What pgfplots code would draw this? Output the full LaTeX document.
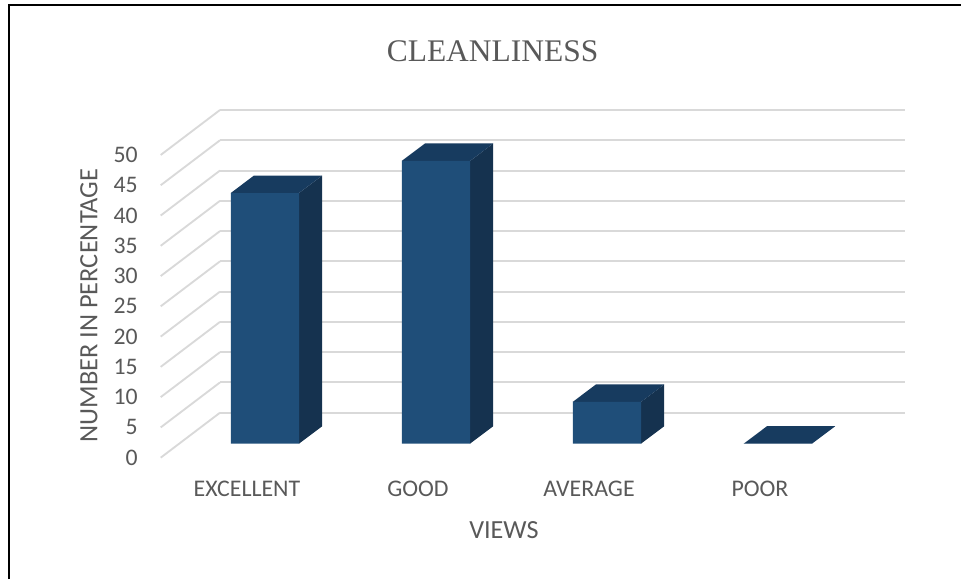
\documentclass[border=0pt]{standalone}
\usepackage{fontspec}
\setmainfont{Carlito}
\newfontfamily\titlefont{Liberation Serif}
\usepackage{pgfplots}
\pgfplotsset{compat=1.18}
\definecolor{gridc}{HTML}{D9D9D9}
\definecolor{txt}{HTML}{595959}
\definecolor{front}{HTML}{1F4E79}
\definecolor{topf}{HTML}{173B5F}
\definecolor{sidef}{HTML}{15324F}
\begin{document}
\begin{tikzpicture}[x=0.75pt,y=0.75pt]
\path[use as bounding box] (0,0) rectangle (961,579);
\draw[black,line width=1.5pt] (9,0) -- (9,574) -- (961,574);
% back wall, floor lines and value axis
\begin{axis}[
  at={(165pt,124.725pt)}, anchor=south west,
  scale only axis, width=513.75pt, height=227.03pt,
  xmin=220, xmax=905, ymin=0, ymax=50,
  clip=false,
  xtick=\empty,
  ytick={0,5,10,15,20,25,30,35,40,45,50},
  ymajorgrids,
  grid style={gridc,line width=1.5pt},
  axis line style={draw=none},
  tick style={draw=none},
  major tick length=0pt,
  /pgf/number format/assume math mode=true,
  yticklabel style={font=\fontsize{17.8}{20}\selectfont,text=txt,inner sep=0pt,anchor=east,xshift=-61.5pt,yshift=-33.75pt},
  ylabel={NUMBER IN PERCENTAGE},
  every axis y label/.style={at={(axis description cs:-0.1915,0.354)},rotate=90,anchor=center,font=\fontsize{19.8}{22}\selectfont,text=txt},
]
\addplot[gridc,line width=1.4pt] coordinates {(220,0)(160.7,-7.43)};
\addplot[gridc,line width=1.4pt] coordinates {(220,5)(160.7,-2.43)};
\addplot[gridc,line width=1.4pt] coordinates {(220,10)(160.7,2.57)};
\addplot[gridc,line width=1.4pt] coordinates {(220,15)(160.7,7.57)};
\addplot[gridc,line width=1.4pt] coordinates {(220,20)(160.7,12.57)};
\addplot[gridc,line width=1.4pt] coordinates {(220,25)(160.7,17.57)};
\addplot[gridc,line width=1.4pt] coordinates {(220,30)(160.7,22.57)};
\addplot[gridc,line width=1.4pt] coordinates {(220,35)(160.7,27.57)};
\addplot[gridc,line width=1.4pt] coordinates {(220,40)(160.7,32.57)};
\addplot[gridc,line width=1.4pt] coordinates {(220,45)(160.7,37.57)};
\addplot[gridc,line width=1.4pt] coordinates {(220,50)(160.7,42.57)};
\end{axis}
% bars
\begin{axis}[
  at={(121.125pt,101.475pt)}, anchor=south west,
  scale only axis, width=513pt, height=227.03pt,
  xmin=-0.5, xmax=3.5, ymin=0, ymax=50,
  clip=false,
  xtick={0,1,2,3},
  xticklabels={EXCELLENT,GOOD,AVERAGE,POOR},
  ytick=\empty,
  axis line style={draw=none},
  tick style={draw=none},
  major tick length=0pt,
  xticklabel style={font=\fontsize{17.9}{20}\selectfont,text=txt,anchor=base,yshift=-39.6pt},
  xlabel={VIEWS},
  every axis x label/.style={at={(axis description cs:0.5007,-0.285)},anchor=center,font=\fontsize{19.6}{22}\selectfont,text=txt},
  title={\titlefont\fontsize{23.6}{26}\selectfont CLEANLINESS},
  title style={at={(axis description cs:0.484,1.271)},anchor=center,text=txt},
]
% side faces
\addplot[sidef,fill=sidef,draw=none] coordinates {(0.304,0)(0.440,2.89)(0.440,44.29)(0.304,41.4)} -- cycle;
\addplot[sidef,fill=sidef,draw=none] coordinates {(1.304,0)(1.440,2.89)(1.440,49.59)(1.304,46.7)} -- cycle;
\addplot[sidef,fill=sidef,draw=none] coordinates {(2.304,0)(2.440,2.89)(2.440,9.79)(2.304,6.9)} -- cycle;
% top faces
\addplot[topf,fill=topf,draw=none] coordinates {(-0.0953,41.4)(0.304,41.4)(0.440,44.29)(0.0407,44.29)} -- cycle;
\addplot[topf,fill=topf,draw=none] coordinates {(0.9047,46.7)(1.304,46.7)(1.440,49.59)(1.0407,49.59)} -- cycle;
\addplot[topf,fill=topf,draw=none] coordinates {(1.9047,6.9)(2.304,6.9)(2.440,9.79)(2.0407,9.79)} -- cycle;
\addplot[topf,fill=topf,draw=none] coordinates {(2.9047,0)(3.304,0)(3.440,2.89)(3.0407,2.89)} -- cycle;
% front faces
\addplot[ybar,bar width=51.2pt,bar shift=13.5pt,fill=front,draw=none] coordinates {(0,41.4)(1,46.7)(2,6.9)(3,0)};
\end{axis}
\end{tikzpicture}
\end{document}
